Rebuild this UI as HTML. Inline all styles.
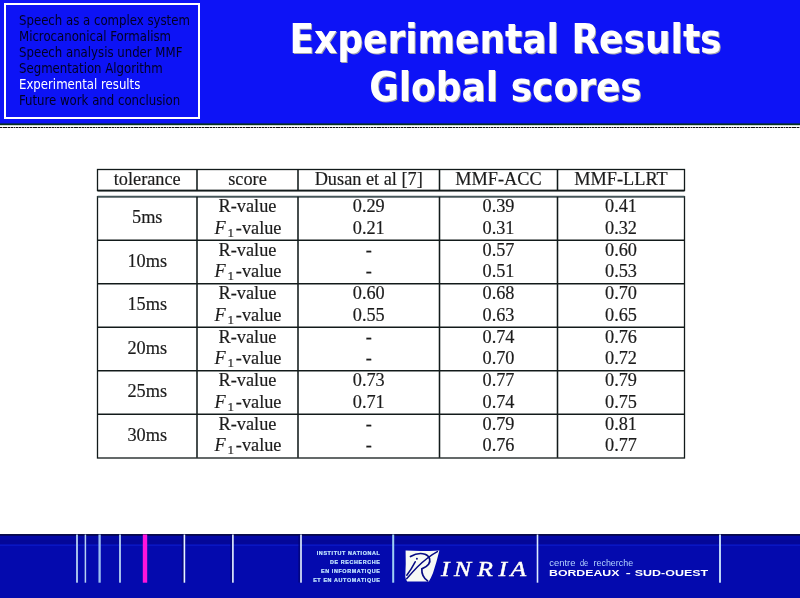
<!DOCTYPE html>
<html lang="en">
<head>
<meta charset="utf-8">
<title>Experimental Results - Global scores</title>
<style>
html,body{margin:0;padding:0;}
body{width:800px;height:598px;position:relative;overflow:hidden;background:#ffffff;font-family:"Liberation Sans","DejaVu Sans",sans-serif;}
.hdr{position:absolute;left:0;top:0;width:800px;height:127px;background:linear-gradient(to bottom,#0d13f6 0,#0d13f6 122.9px,#06301f 123.9px,#06301f 124.6px,#dfeae6 125.6px,#ffffff 126.4px,#ffffff 127px);}
.dots{position:absolute;left:0;top:127px;width:800px;height:1px;background:repeating-linear-gradient(90deg,#111 0,#111 1.8px,#a0a0a0 1.8px,#a0a0a0 2.73px);}
.menu{position:absolute;left:4px;top:3px;width:192px;height:112px;border:2px solid #ffffff;box-sizing:content-box;}
.menu ul{list-style:none;margin:0;padding:0;position:absolute;left:13.4px;top:7.2px;}
.menu li{font-family:"DejaVu Sans Condensed","DejaVu Sans","Liberation Sans",sans-serif;font-stretch:condensed;font-size:14.5px;line-height:16px;height:16px;color:#000024;white-space:nowrap;transform-origin:0 50%;transform:scaleX(0.9);}
.menu li.cur{color:#ffffff;}
h1{position:absolute;left:205.5px;top:15px;width:600px;margin:0;text-align:center;font-family:"DejaVu Sans Condensed","DejaVu Sans","Liberation Sans",sans-serif;font-stretch:condensed;font-weight:bold;font-size:40px;line-height:48px;color:#ffffff;text-shadow:1px 1px 0 #a4a4ac;white-space:nowrap;}
.tbl{position:absolute;left:0;top:0;}
.tt text{font-family:"Liberation Serif","DejaVu Serif",serif;font-size:18.3px;fill:#1c1c1c;stroke:#1c1c1c;stroke-width:0.18px;}
.ft{position:absolute;left:0;top:534px;}
.inst text{font-family:"Liberation Sans",sans-serif;font-weight:bold;font-size:5.4px;letter-spacing:0.62px;}
.inria text{font-family:"Liberation Serif",serif;font-style:italic;font-weight:normal;font-size:21px;stroke-width:0.45px;filter:drop-shadow(0.8px 0.8px 0 #03046a);}
.cdr{font-family:"Liberation Sans",sans-serif;font-size:9.4px;}
.bso{font-family:"Liberation Sans",sans-serif;font-weight:bold;font-size:8.6px;}
</style>
</head>
<body>
<div class="hdr"></div>
<div class="dots"></div>
<div class="menu"><ul>
<li>Speech as a complex system</li>
<li>Microcanonical Formalism</li>
<li>Speech analysis under MMF</li>
<li>Segmentation Algorithm</li>
<li class="cur">Experimental results</li>
<li>Future work and conclusion</li>
</ul></div>
<h1>Experimental Results<br>Global scores</h1>
<svg class="tbl" width="800" height="598" viewBox="0 0 800 598">
<g stroke="#121a1a" fill="none">
<rect x="97.5" y="169.5" width="587.0" height="21" stroke-width="1.3"/>
<line x1="97.5" y1="190.6" x2="684.5" y2="190.6" stroke-width="1.8"/>
<line x1="197.0" y1="169.5" x2="197.0" y2="190.5" stroke-width="1.55"/>
<line x1="298.0" y1="169.5" x2="298.0" y2="190.5" stroke-width="1.55"/>
<line x1="439.5" y1="169.5" x2="439.5" y2="190.5" stroke-width="1.55"/>
<line x1="557.5" y1="169.5" x2="557.5" y2="190.5" stroke-width="1.55"/>
<rect x="97.5" y="196.7" width="587.0" height="261.3" stroke-width="1.3"/>
<line x1="97.5" y1="196.7" x2="684.5" y2="196.7" stroke-width="1.8" stroke="#44565a"/>
<line x1="197.0" y1="196.7" x2="197.0" y2="457.7" stroke-width="1.55"/>
<line x1="298.0" y1="196.7" x2="298.0" y2="457.7" stroke-width="1.55"/>
<line x1="439.5" y1="196.7" x2="439.5" y2="457.7" stroke-width="1.55"/>
<line x1="557.5" y1="196.7" x2="557.5" y2="457.7" stroke-width="1.55"/>
<line x1="97.5" y1="240.2" x2="684.5" y2="240.2" stroke-width="1.55"/>
<line x1="97.5" y1="283.7" x2="684.5" y2="283.7" stroke-width="1.55"/>
<line x1="97.5" y1="327.2" x2="684.5" y2="327.2" stroke-width="1.55"/>
<line x1="97.5" y1="370.7" x2="684.5" y2="370.7" stroke-width="1.55"/>
<line x1="97.5" y1="414.2" x2="684.5" y2="414.2" stroke-width="1.55"/>
</g>
<g class="tt" text-anchor="middle">
<text x="147.25" y="184.5">tolerance</text>
<text x="247.5" y="184.5">score</text>
<text x="368.75" y="184.5">Dusan et al [7]</text>
<text x="498.5" y="184.5">MMF-ACC</text>
<text x="621.0" y="184.5">MMF-LLRT</text>
<text x="147.25" y="223.2">5ms</text>
<text x="247.5" y="212.2">R-value</text>
<text text-anchor="start" y="233.7"><tspan x="214.6" font-style="italic">F</tspan><tspan x="227.4" font-size="13" dy="3">1</tspan><tspan x="235.8" dy="-3">-value</tspan></text>
<text x="368.75" y="212.2">0.29</text>
<text x="368.75" y="233.7">0.21</text>
<text x="498.5" y="212.2">0.39</text>
<text x="498.5" y="233.7">0.31</text>
<text x="621.0" y="212.2">0.41</text>
<text x="621.0" y="233.7">0.32</text>
<text x="147.25" y="266.7">10ms</text>
<text x="247.5" y="255.7">R-value</text>
<text text-anchor="start" y="277.2"><tspan x="214.6" font-style="italic">F</tspan><tspan x="227.4" font-size="13" dy="3">1</tspan><tspan x="235.8" dy="-3">-value</tspan></text>
<text x="368.75" y="255.7">-</text>
<text x="368.75" y="277.2">-</text>
<text x="498.5" y="255.7">0.57</text>
<text x="498.5" y="277.2">0.51</text>
<text x="621.0" y="255.7">0.60</text>
<text x="621.0" y="277.2">0.53</text>
<text x="147.25" y="310.2">15ms</text>
<text x="247.5" y="299.2">R-value</text>
<text text-anchor="start" y="320.7"><tspan x="214.6" font-style="italic">F</tspan><tspan x="227.4" font-size="13" dy="3">1</tspan><tspan x="235.8" dy="-3">-value</tspan></text>
<text x="368.75" y="299.2">0.60</text>
<text x="368.75" y="320.7">0.55</text>
<text x="498.5" y="299.2">0.68</text>
<text x="498.5" y="320.7">0.63</text>
<text x="621.0" y="299.2">0.70</text>
<text x="621.0" y="320.7">0.65</text>
<text x="147.25" y="353.7">20ms</text>
<text x="247.5" y="342.7">R-value</text>
<text text-anchor="start" y="364.2"><tspan x="214.6" font-style="italic">F</tspan><tspan x="227.4" font-size="13" dy="3">1</tspan><tspan x="235.8" dy="-3">-value</tspan></text>
<text x="368.75" y="342.7">-</text>
<text x="368.75" y="364.2">-</text>
<text x="498.5" y="342.7">0.74</text>
<text x="498.5" y="364.2">0.70</text>
<text x="621.0" y="342.7">0.76</text>
<text x="621.0" y="364.2">0.72</text>
<text x="147.25" y="397.2">25ms</text>
<text x="247.5" y="386.2">R-value</text>
<text text-anchor="start" y="407.7"><tspan x="214.6" font-style="italic">F</tspan><tspan x="227.4" font-size="13" dy="3">1</tspan><tspan x="235.8" dy="-3">-value</tspan></text>
<text x="368.75" y="386.2">0.73</text>
<text x="368.75" y="407.7">0.71</text>
<text x="498.5" y="386.2">0.77</text>
<text x="498.5" y="407.7">0.74</text>
<text x="621.0" y="386.2">0.79</text>
<text x="621.0" y="407.7">0.75</text>
<text x="147.25" y="440.7">30ms</text>
<text x="247.5" y="429.7">R-value</text>
<text text-anchor="start" y="451.2"><tspan x="214.6" font-style="italic">F</tspan><tspan x="227.4" font-size="13" dy="3">1</tspan><tspan x="235.8" dy="-3">-value</tspan></text>
<text x="368.75" y="429.7">-</text>
<text x="368.75" y="451.2">-</text>
<text x="498.5" y="429.7">0.79</text>
<text x="498.5" y="451.2">0.76</text>
<text x="621.0" y="429.7">0.81</text>
<text x="621.0" y="451.2">0.77</text>
</g></svg>
<svg class="ft" width="800" height="64" viewBox="0 534 800 64">
<rect x="0" y="534.3" width="800" height="64" fill="#040aae"/>
<rect x="0" y="534.3" width="800" height="5.4" fill="#0409a6"/>
<rect x="0" y="539.7" width="800" height="4.8" fill="#040798"/>
<rect x="0" y="544.5" width="800" height="1.4" fill="#0a18c6"/>
<rect x="0" y="534.3" width="800" height="1.2" fill="#06061e"/>
<rect x="76.1" y="534.5" width="1.8" height="48.200000000000045" fill="#b6d2f2"/>
<rect x="84.65" y="534.5" width="1.5" height="48.200000000000045" fill="#b6d2f2"/>
<rect x="98.44999999999999" y="534.5" width="2.3" height="48.200000000000045" fill="#9cc0f0"/>
<rect x="119.1" y="534.5" width="1.8" height="48.200000000000045" fill="#b6d2f2"/>
<rect x="142.8" y="534.5" width="4.4" height="48.200000000000045" fill="#ff14dc"/>
<rect x="181.8" y="534.5" width="2" height="48" fill="#03046e" opacity="0.7"/>
<rect x="183.6" y="534.5" width="1.6" height="48.200000000000045" fill="#e8f4ff"/>
<rect x="230.3" y="534.5" width="2" height="48" fill="#03046e" opacity="0.7"/>
<rect x="232.1" y="534.5" width="1.6" height="48.200000000000045" fill="#e8f4ff"/>
<rect x="298.4" y="534.5" width="2" height="48" fill="#03046e" opacity="0.7"/>
<rect x="300.2" y="534.5" width="1.6" height="48.200000000000045" fill="#e8f4ff"/>
<rect x="392.2" y="534.5" width="2.0" height="48.200000000000045" fill="#9fd0f4"/>
<rect x="536.7" y="534.5" width="1.6" height="48.200000000000045" fill="#dcecff"/>
<rect x="719.0" y="534.5" width="2.0" height="48.200000000000045" fill="#bcd4f6"/>
<g class="inst" text-anchor="end" fill="#c2e6ff" stroke="#c2e6ff" stroke-width="0.22">
<text x="380.5" y="555">INSTITUT NATIONAL</text>
<text x="380.5" y="564">DE RECHERCHE</text>
<text x="380.5" y="573">EN INFORMATIQUE</text>
<text x="380.5" y="582">ET EN AUTOMATIQUE</text>
</g>
<path d="M405.6 550.6 Q422 551.4 439.4 550.4 Q436.6 562 433 573 Q431 578 428.8 581.6 L407.2 581.6 Q405.4 579.6 405.3 576.6 Q406 564 405.6 550.6 Z" fill="#f7f9f5"/>
<g fill="none" stroke="#070b84" stroke-linecap="round" stroke-linejoin="round">
<path d="M410.5 556.6 C414 554.5 420 552.6 425 554.2 C430 556 431 561 428.6 564.2 C427 566.4 424.5 567.8 421.8 568.9 C421.6 573 423.4 578 427.6 580.9" stroke-width="1.7"/>
<path d="M437.4 551.6 C431 555 424 560.5 417.6 566.8 C413 571.5 409.5 575.5 406.6 578.8" stroke-width="1.5"/>
<path d="M415.2 561.8 C413 566 410 571 406.8 575.2" stroke-width="1.55"/>
</g>
<circle cx="416.9" cy="558.7" r="0.95" fill="#070b84"/>
<g class="inria"><text transform="scale(1.22,1)" x="361.48 372.05 391.15 408.69 418.52" y="575.9" fill="#ffffff" stroke="#ffffff">INRIA</text></g>
<text class="cdr" x="549.2" y="565.8" fill="#b4d4ff" textLength="26.2" lengthAdjust="spacingAndGlyphs">centre</text>
<text class="cdr" x="579.9" y="565.8" fill="#b4d4ff" textLength="8.3" lengthAdjust="spacingAndGlyphs">de</text>
<text class="cdr" x="593.6" y="565.8" fill="#b4d4ff" textLength="39.5" lengthAdjust="spacingAndGlyphs">recherche</text>
<text class="bso" x="549.0" y="575.7" fill="#ffffff" textLength="70.4" lengthAdjust="spacingAndGlyphs">BORDEAUX</text>
<text class="bso" x="625.8" y="575.7" fill="#ffffff" textLength="5.0" lengthAdjust="spacingAndGlyphs">-</text>
<text class="bso" x="634.8" y="575.7" fill="#ffffff" textLength="73.4" lengthAdjust="spacingAndGlyphs">SUD-OUEST</text>
</svg>
</body>
</html>
